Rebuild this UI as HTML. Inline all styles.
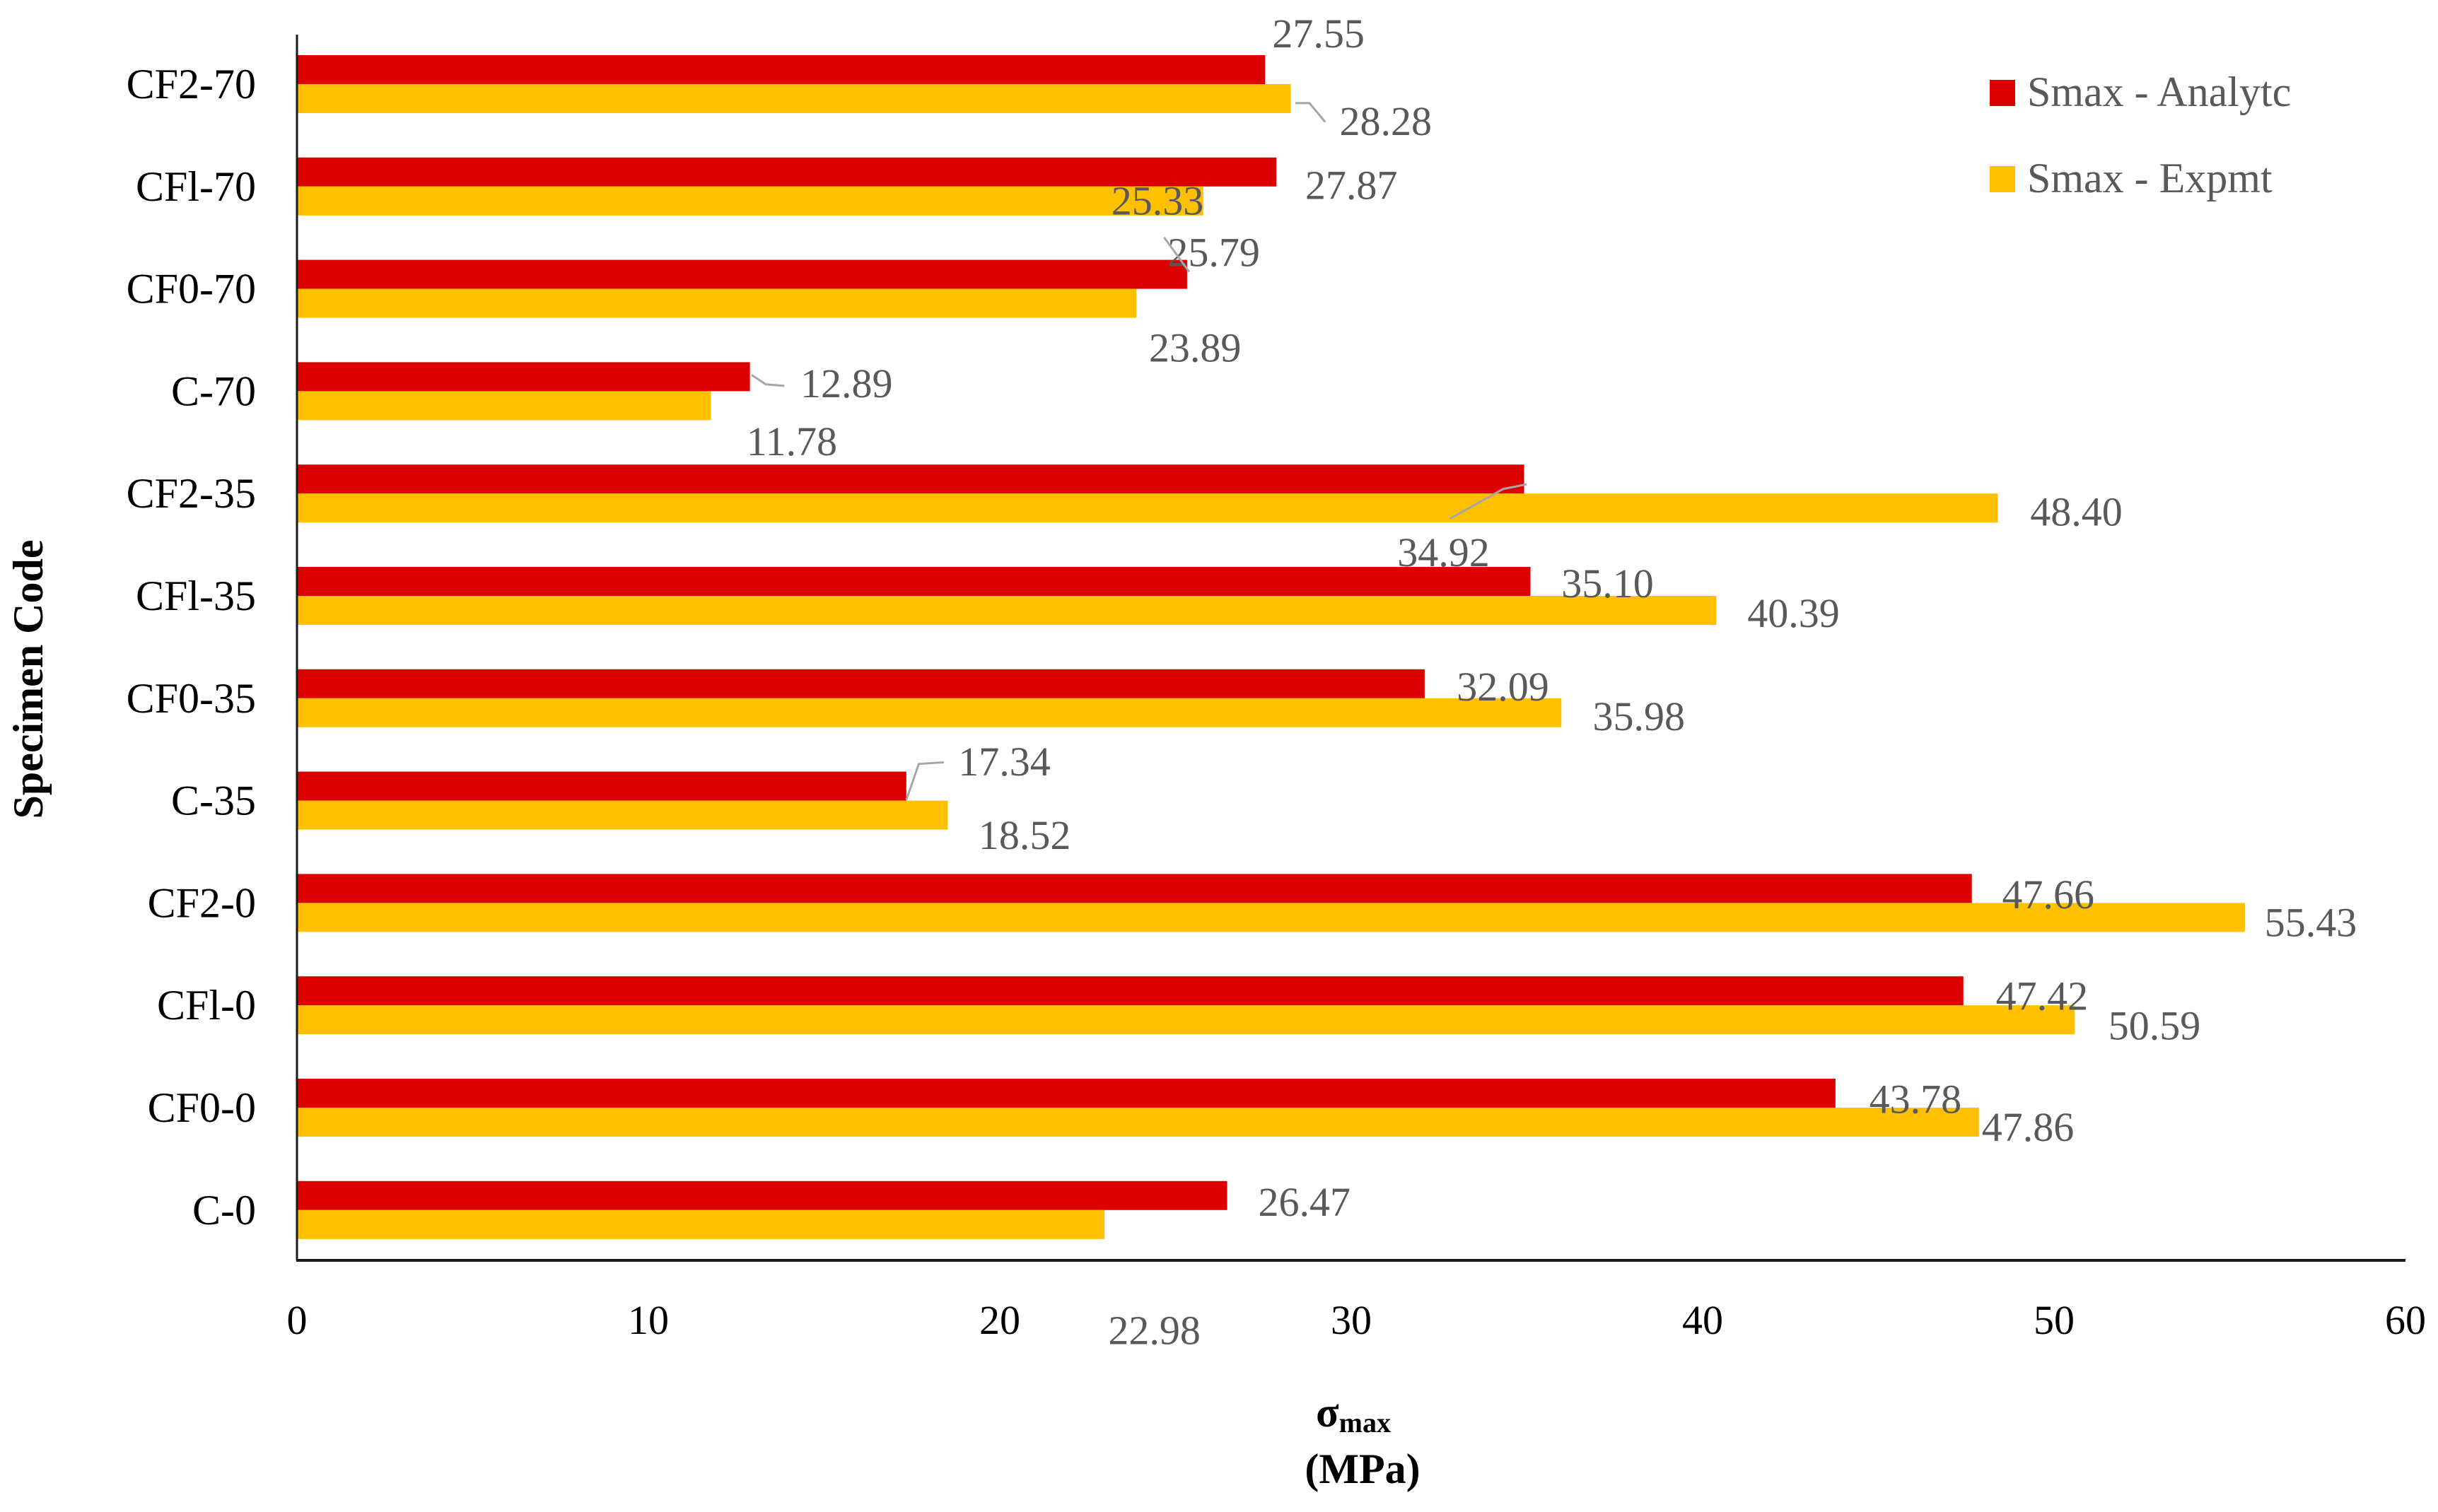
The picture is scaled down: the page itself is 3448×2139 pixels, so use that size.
<!DOCTYPE html>
<html><head><meta charset="utf-8"><style>
html,body{margin:0;padding:0;background:#fff;}
svg{display:block;font-family:"Liberation Serif",serif;}
</style></head><body>
<svg id="chart" width="3448" height="2139" viewBox="0 0 3448 2139" xmlns="http://www.w3.org/2000/svg">
<rect x="0" y="0" width="3448" height="2139" fill="#fff"/>
<g id="bars"></g>
<g id="labels"></g>
<line x1="420" y1="49" x2="420" y2="1783" stroke="#1a1a1a" stroke-width="3"/>
<line x1="419" y1="1783" x2="3402" y2="1783" stroke="#1a1a1a" stroke-width="4"/>
<g id="ticks"></g>
<g id="cats"></g>
<text transform="translate(60,961) rotate(-90)" text-anchor="middle" font-size="60" font-weight="bold" fill="#000">Specimen Code</text>
<text x="1914" y="2018" text-anchor="middle" font-size="60" font-weight="bold" fill="#000">σ<tspan font-size="40" dy="8">max</tspan></text>
<text x="1927" y="2098" text-anchor="middle" font-size="60" font-weight="bold" fill="#000">(MPa)</text>
<g>
<rect x="2814" y="113" width="36" height="37" fill="#dd0000"/>
<text x="2867" y="150" font-size="60" fill="#595959">Smax - Analytc</text>
<rect x="2814" y="235" width="36" height="37" fill="#ffc000"/>
<text x="2867" y="272" font-size="60" fill="#595959">Smax - Expmt</text>
</g>
</svg>
<script>
const categories = ["CF2-70","CFl-70","CF0-70","C-70","CF2-35","CFl-35","CF0-35","C-35","CF2-0","CFl-0","CF0-0","C-0"];
const analytc = [27.55,27.87,25.33,12.89,34.92,35.10,32.09,17.34,47.66,47.42,43.78,26.47];
const expmt = [28.28,25.79,23.89,11.78,48.40,40.39,35.98,18.52,55.43,50.59,47.86,22.98];
const xTicks = [0,10,20,30,40,50,60];
// manually placed data-label anchors (layout, in 1/2.21 scale)
const redLabelAt = [[846,24],[867,121],[743,131],[544,248],[926,356],[1031,376],[964,442],[645,490],[1313,575],[1309,640],[1228,706],[837,772]];
const yelLabelAt = [[889,80],[779,164],[767,225],[509,285],[1331,330],[1150,395],[1051,461],[658,537],[1481,593],[1381,659],[1300,724],[741,854]];

const svgNS="http://www.w3.org/2000/svg";
const X0=420, XS=49.7, S=2.21;
function xs(v){return X0+v*XS;}
function yc(i){return 119+144.8*i;}
const BH=41;
const bars=document.getElementById('bars');
const labels=document.getElementById('labels');
function mk(tag,attrs,parent){const e=document.createElementNS(svgNS,tag);for(const k in attrs)e.setAttribute(k,attrs[k]);parent.appendChild(e);return e;}
categories.forEach((c,i)=>{
  const r=mk('rect',{x:X0,y:yc(i)-BH,width:xs(analytc[i])-X0,height:BH,fill:'#dd0000'},bars);
  
  
  const y=mk('rect',{x:X0,y:yc(i),width:xs(expmt[i])-X0,height:BH,fill:'#ffc000'},bars);
  
  
  const t1=mk('text',{x:redLabelAt[i][0]*S-5,y:redLabelAt[i][1]*S+14,'text-anchor':'middle','font-size':58,fill:'#595959'},labels);
  t1.textContent=analytc[i].toFixed(2);
  
  
  const t2=mk('text',{x:yelLabelAt[i][0]*S-5,y:yelLabelAt[i][1]*S+14,'text-anchor':'middle','font-size':58,fill:'#595959'},labels);
  t2.textContent=expmt[i].toFixed(2);
  
  
  const ct=mk('text',{x:362,y:yc(i)+20,'text-anchor':'end','font-size':60,fill:'#000'},document.getElementById('cats'));
  ct.textContent=c;
  
  
});
function leader(pts,name){const p=mk('polyline',{points:pts.map(q=>(q[0]*S)+','+(q[1]*S)).join(' '),fill:'none',stroke:'#a6a6a6','stroke-width':3},labels);
  
  }
leader([[829,66],[838,66],[848,78]],'leader-cf2-70');
leader([[745,152],[761,174]],'leader-cf0-70');
leader([[481,240],[490,246],[502,247]],'leader-c-70');
leader([[977,310],[962,313],[928,332]],'leader-cf2-35');
leader([[580,512],[588,489],[604,488]],'leader-c-35');
xTicks.forEach(v=>{
  const t=mk('text',{x:xs(v),y:1887,'text-anchor':'middle','font-size':58,fill:'#000'},document.getElementById('ticks'));
  t.textContent=v;
  
  
});
</script>
</body></html>
